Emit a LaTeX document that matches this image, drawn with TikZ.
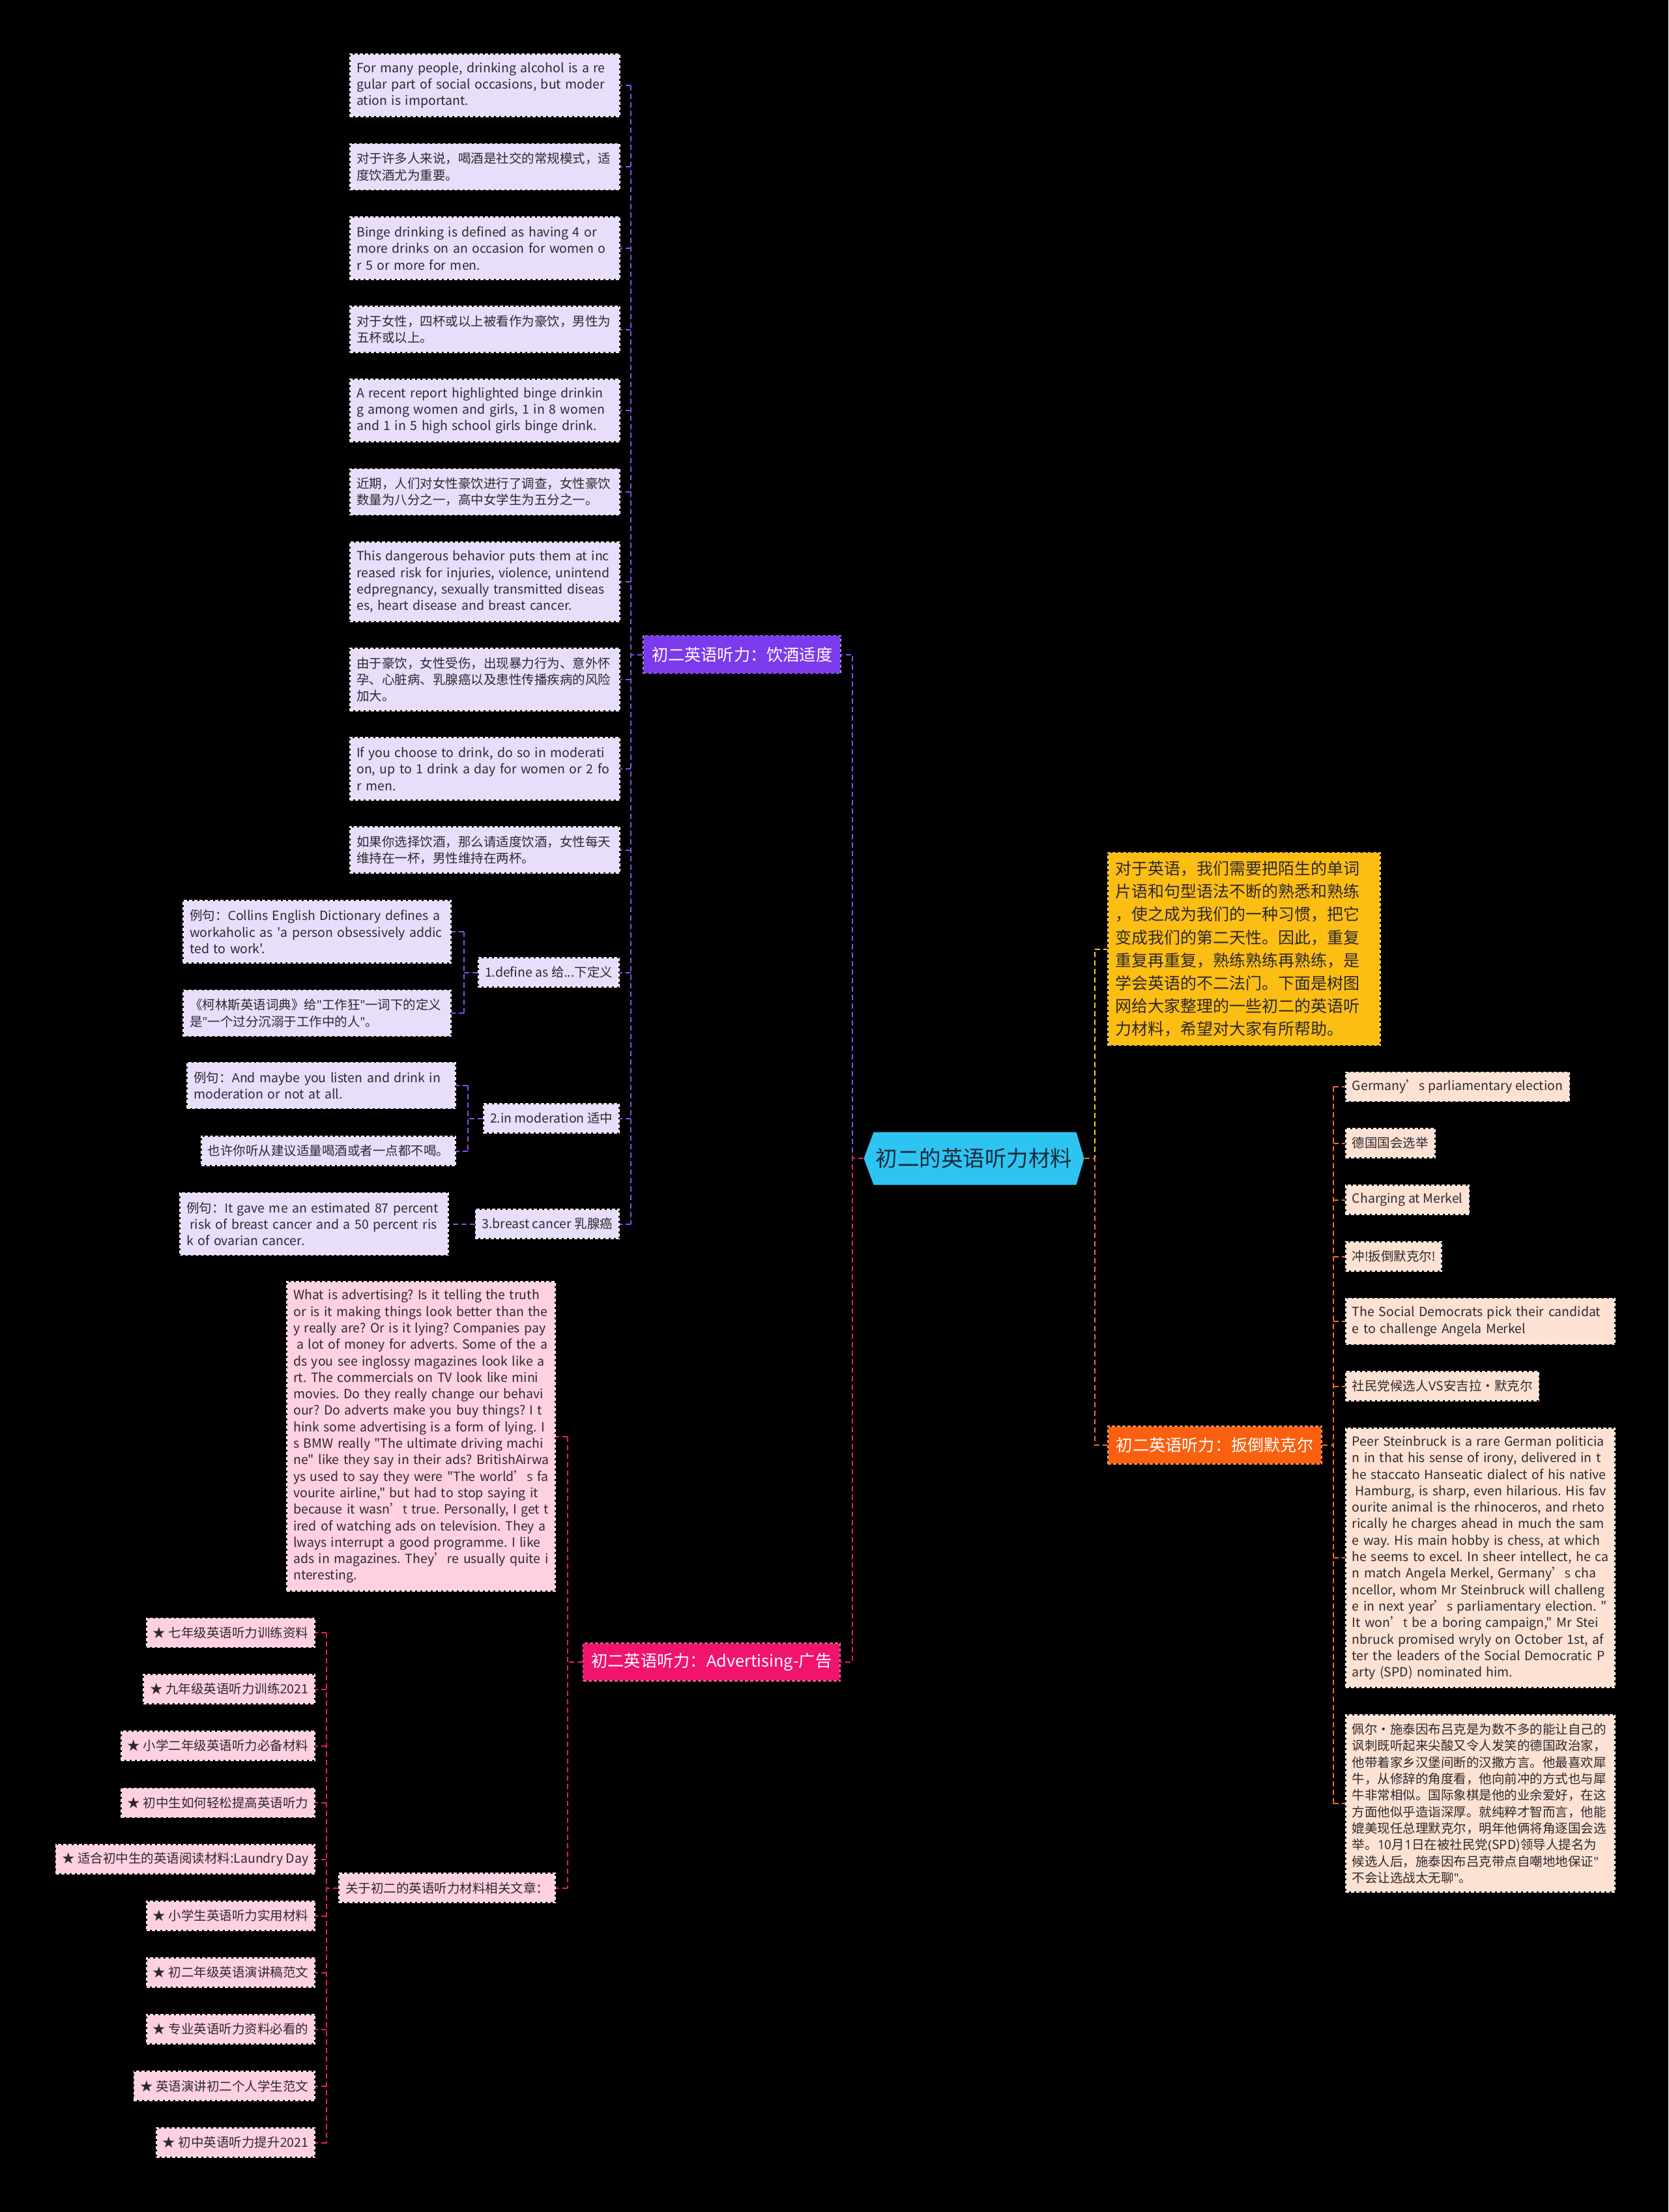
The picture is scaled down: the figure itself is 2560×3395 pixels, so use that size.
\documentclass[tikz,border=0pt]{standalone}
\usepackage{fontspec}
\setmainfont{Noto Sans CJK SC}
\newfontfamily\cjkfont{Noto Sans CJK SC}
\newfontfamily\latinfont{Open Sans}
\usetikzlibrary{calc}
\definecolor{rootcyan}{RGB}{46,196,242}
\definecolor{rootink}{RGB}{25,42,58}
\definecolor{leafink}{RGB}{45,40,45}
\definecolor{drinkpurple}{RGB}{124,58,237}
\definecolor{drinklight}{RGB}{232,222,252}
\definecolor{drinkwire}{RGB}{138,78,240}
\definecolor{adpink}{RGB}{240,20,110}
\definecolor{adlight}{RGB}{255,208,226}
\definecolor{adwire}{RGB}{232,28,108}
\definecolor{merkelorange}{RGB}{250,96,16}
\definecolor{merkellight}{RGB}{253,226,212}
\definecolor{merkelwire}{RGB}{242,110,40}
\definecolor{introyellow}{RGB}{253,190,20}
\definecolor{introwire}{RGB}{250,205,40}
\newcommand\leaffont{\fontsize{19.5}{25.3}\selectfont}
\newcommand\branchfont{\fontsize{25.2}{30}\selectfont}
\newcommand\introfont{\fontsize{25}{35.2}\selectfont}
\newcommand\rootfont{\fontsize{33.5}{40}\selectfont}
% latin letters in Open Sans, everything else in Noto Sans CJK
% (and no line breaks at spaces: lines are broken by hand)
\newXeTeXintercharclass\latincls
\count255=33
\loop
  \XeTeXcharclass\count255=\latincls
  \advance\count255 by 1
\ifnum\count255<127 \repeat
\XeTeXinterchartoks 4095 \latincls = {\latinfont}
\XeTeXinterchartoks 0 \latincls = {\latinfont}
\XeTeXinterchartoks 1 \latincls = {\latinfont}
\XeTeXinterchartoks 2 \latincls = {\latinfont}
\XeTeXinterchartoks 3 \latincls = {\latinfont}
\XeTeXinterchartoks \latincls 0 = {\cjkfont}
\XeTeXinterchartoks \latincls 1 = {\cjkfont}
\XeTeXinterchartoks \latincls 2 = {\cjkfont}
\XeTeXinterchartoks \latincls 3 = {\cjkfont}
\XeTeXinterchartoks 4095 0 = {\cjkfont}
\XeTeXinterchartoks 4095 1 = {\cjkfont}
\XeTeXinterchartoks 4095 2 = {\cjkfont}
\XeTeXinterchartoks 4095 3 = {\cjkfont}
\XeTeXinterchartoks \latincls 4095 = {\nobreak}
\XeTeXinterchartoks 0 4095 = {\nobreak}
\XeTeXinterchartoks 1 4095 = {\nobreak}
\XeTeXinterchartoks 2 4095 = {\nobreak}
\XeTeXinterchartoks 3 4095 = {\nobreak}
\XeTeXinterchartokenstate=1

\begin{document}
\frenchspacing
\hyphenpenalty=10000
\exhyphenpenalty=10000
\begin{tikzpicture}[x=1pt,y=-1pt,
  leaf/.style={rectangle, draw=black, line width=1.6pt, inner xsep=10pt, inner ysep=2pt,
    minimum height=45pt, align=left, text=leafink, font=\leaffont},
  pleaf/.style={leaf, fill=drinklight, postaction={draw=white!55!drinklight, dash pattern=on 5pt off 3pt}},
  aleaf/.style={leaf, fill=adlight, postaction={draw=white!55!adlight, dash pattern=on 5pt off 3pt}},
  mleaf/.style={leaf, fill=merkellight, postaction={draw=white!55!merkellight, dash pattern=on 5pt off 3pt}},
  branch/.style={rectangle, fill=#1, draw=black, line width=1.6pt,
    postaction={draw=#1!65!white, dash pattern=on 5pt off 3pt},
    inner xsep=13pt, minimum height=58pt, text=white, font=\branchfont},
  intro/.style={rectangle, fill=introyellow, draw=black, line width=1.6pt,
    postaction={draw=introyellow!70!white, dash pattern=on 5pt off 3pt},
    inner xsep=12pt, align=left, text=leafink, font=\introfont},
  wire/.style={line width=2pt, dash pattern=on 8pt off 5pt},
  drinkline/.style={wire, draw=drinkwire},
  adline/.style={wire, draw=adwire},
  introline/.style={wire, draw=introwire},
  merkelline/.style={wire, draw=merkelwire}]

\fill[black] (0,0) rectangle (2560,3395);
\useasboundingbox (0,0) rectangle (2560,3395);

% root
\coordinate (rc) at (1494.5,1778);
\fill[rootcyan] ($(rc)+(-169,0)$) -- ($(rc)+(-154,-40.5)$) -- ($(rc)+(157,-40.5)$)
  -- ($(rc)+(169,0)$) -- ($(rc)+(157,40.5)$) -- ($(rc)+(-154,40.5)$) -- cycle;
\node[minimum width=338pt, minimum height=81pt, text=rootink, font=\rootfont] (root) at (rc) {初二的英语听力材料};

% branch: drinking
\node[branch=drinkpurple, anchor=east] (b1) at (1291,1004.5) {初二英语听力：饮酒适度};
\node[pleaf, anchor=east, text width=394pt, minimum height=96pt] (p1) at (952,131)
  {For many people, drinking alcohol is a re\\gular part of social occasions, but moder\\ation is important.};
\node[pleaf, anchor=east, text width=394pt, minimum height=71pt] (p2) at (952,256)
  {对于许多人来说，喝酒是社交的常规模式，适\\度饮酒尤为重要。};
\node[pleaf, anchor=east, text width=394pt, minimum height=96pt] (p3) at (952,381)
  {Binge drinking is defined as having 4 or\\more drinks on an occasion for women o\\r 5 or more for men.};
\node[pleaf, anchor=east, text width=394pt, minimum height=71pt] (p4) at (952,505.5)
  {对于女性，四杯或以上被看作为豪饮，男性为\\五杯或以上。};
\node[pleaf, anchor=east, text width=394pt, minimum height=96pt] (p5) at (952,630)
  {A recent report highlighted binge drinkin\\g among women and girls, 1 in 8 women\\and 1 in 5 high school girls binge drink.};
\node[pleaf, anchor=east, text width=394pt, minimum height=71pt] (p6) at (952,755)
  {近期，人们对女性豪饮进行了调查，女性豪饮\\数量为八分之一，高中女学生为五分之一。};
\node[pleaf, anchor=east, text width=394pt, minimum height=122pt] (p7) at (952,893)
  {This dangerous behavior puts them at inc\\reased risk for injuries, violence, unintend\\edpregnancy, sexually transmitted diseas\\es, heart disease and breast cancer.};
\node[pleaf, anchor=east, text width=394pt, minimum height=96pt] (p8) at (952,1043)
  {由于豪饮，女性受伤，出现暴力行为、意外怀\\孕、心脏病、乳腺癌以及患性传播疾病的风险\\加大。};
\node[pleaf, anchor=east, text width=394pt, minimum height=96pt] (p9) at (952,1180)
  {If you choose to drink, do so in moderati\\on, up to 1 drink a day for women or 2 fo\\r men.};
\node[pleaf, anchor=east, text width=394pt, minimum height=71pt] (p10) at (952,1304.5)
  {如果你选择饮酒，那么请适度饮酒，女性每天\\维持在一杯，男性维持在两杯。};
\node[pleaf, anchor=east] (d1) at (951,1492.5) {1.define as 给...下定义};
\node[pleaf, anchor=east] (d2) at (951,1716.5) {2.in moderation 适中};
\node[pleaf, anchor=east] (d3) at (951,1878.5) {3.breast cancer 乳腺癌};
\node[pleaf, anchor=east, text width=391pt, minimum height=96pt] (e1) at (693,1430)
  {例句：Collins English Dictionary defines a\\workaholic as 'a person obsessively addic\\ted to work'.};
\node[pleaf, anchor=east, text width=391pt, minimum height=71pt] (e2) at (693,1555)
  {《柯林斯英语词典》给"工作狂"一词下的定义\\是"一个过分沉溺于工作中的人"。};
\node[pleaf, anchor=east, text width=392pt, minimum height=71pt] (e3) at (700,1666)
  {例句：And maybe you listen and drink in\\moderation or not at all.};
\node[pleaf, anchor=east] (e4) at (700,1766.5) {也许你听从建议适量喝酒或者一点都不喝。};
\node[pleaf, anchor=east, text width=392pt, minimum height=96pt] (e5) at (689,1878.5)
  {例句：It gave me an estimated 87 percent\\\hspace*{.25em}risk of breast cancer and a 50 percent ris\\k of ovarian cancer.};

% branch: advertising
\node[branch=adpink, anchor=east] (b3) at (1290,2551) {初二英语听力：Advertising-广告};
\node[aleaf, anchor=east, text width=392pt, minimum height=475pt] (ad) at (853,2204.5)
  {What is advertising? Is it telling the truth\\or is it making things look better than the\\y really are? Or is it lying? Companies pay\\\hspace*{.25em}a lot of money for adverts. Some of the a\\ds you see inglossy magazines look like a\\rt. The commercials on TV look like mini\\movies. Do they really change our behavi\\our? Do adverts make you buy things? I t\\hink some advertising is a form of lying. I\\s BMW really "The ultimate driving machi\\ne" like they say in their ads? BritishAirwa\\ys used to say they were "The world’s fa\\vourite airline," but had to stop saying it\\because it wasn’t true. Personally, I get t\\ired of watching ads on television. They a\\lways interrupt a good programme. I like\\ads in magazines. They’re usually quite i\\nteresting.};
\node[aleaf, anchor=east] (rel) at (853,2897.5) {关于初二的英语听力材料相关文章：};
\foreach \i/\y/\txt in {1/2506/七年级英语听力训练资料, 2/2592.5/九年级英语听力训练2021,
    3/2679.5/小学二年级英语听力必备材料, 4/2767/初中生如何轻松提高英语听力,
    5/2853.5/适合初中生的英语阅读材料:Laundry Day, 6/2940.5/小学生英语听力实用材料,
    7/3027.5/初二年级英语演讲稿范文, 8/3114.5/专业英语听力资料必看的,
    9/3201.5/英语演讲初二个人学生范文, 10/3288.5/初中英语听力提升2021}
  \node[aleaf, anchor=east] (s\i) at (484,\y) {★ \txt};

% intro
\node[intro, anchor=west, text width=394pt, minimum height=296pt] (intro) at (1699,1456.5)
  {对于英语，我们需要把陌生的单词\\片语和句型语法不断的熟悉和熟练\\，使之成为我们的一种习惯，把它\\变成我们的第二天性。因此，重复\\重复再重复，熟练熟练再熟练，是\\学会英语的不二法门。下面是树图\\网给大家整理的一些初二的英语听\\力材料，希望对大家有所帮助。};

% branch: Merkel
\node[branch=merkelorange, anchor=west] (b2) at (1699,2218) {初二英语听力：扳倒默克尔};
\node[mleaf, anchor=west] (r1) at (2064,1668) {Germany’s parliamentary election};
\node[mleaf, anchor=west] (r2) at (2064,1754.5) {德国国会选举};
\node[mleaf, anchor=west] (r3) at (2064,1841.5) {Charging at Merkel};
\node[mleaf, anchor=west] (r4) at (2064,1928.5) {冲!扳倒默克尔!};
\node[mleaf, anchor=west, text width=393pt, minimum height=71pt] (r5) at (2064,2028)
  {The Social Democrats pick their candidat\\e to challenge Angela Merkel};
\node[mleaf, anchor=west] (r6) at (2064,2127.5) {社民党候选人VS安吉拉·默克尔};
\node[mleaf, anchor=west, text width=393pt, minimum height=398pt] (r7) at (2064,2391)
  {Peer Steinbruck is a rare German politicia\\n in that his sense of irony, delivered in t\\he staccato Hanseatic dialect of his native\\\hspace*{.25em}Hamburg, is sharp, even hilarious. His fav\\ourite animal is the rhinoceros, and rheto\\rically he charges ahead in much the sam\\e way. His main hobby is chess, at which\\he seems to excel. In sheer intellect, he ca\\n match Angela Merkel, Germany’s cha\\ncellor, whom Mr Steinbruck will challeng\\e in next year’s parliamentary election. "\\It won’t be a boring campaign," Mr Stei\\nbruck promised wryly on October 1st, af\\ter the leaders of the Social Democratic P\\arty (SPD) nominated him.};
\node[mleaf, anchor=west, text width=393pt, minimum height=272pt] (r8) at (2064,2768)
  {佩尔·施泰因布吕克是为数不多的能让自己的\\讽刺既听起来尖酸又令人发笑的德国政治家，\\他带着家乡汉堡间断的汉撒方言。他最喜欢犀\\牛，从修辞的角度看，他向前冲的方式也与犀\\牛非常相似。国际象棋是他的业余爱好，在这\\方面他似乎造诣深厚。就纯粹才智而言，他能\\媲美现任总理默克尔，明年他俩将角逐国会选\\举。10月1日在被社民党(SPD)领导人提名为\\候选人后，施泰因布吕克带点自嘲地地保证"\\不会让选战太无聊"。};

% junction columns
\coordinate (jl) at (1308,0);
\coordinate (jr) at (1680,0);
\coordinate (j1) at (968,0);
\coordinate (j1a) at (712,0);
\coordinate (j1b) at (718,0);
\coordinate (j2) at (2045.5,0);
\coordinate (j3) at (871,0);
\coordinate (j3a) at (501,0);

% root to branches
\draw[drinkline] (root.west) -| (jl |- b1.east) -- (b1.east);
\draw[adline] (root.west) -| (jl |- b3.east) -- (b3.east);
\draw[introline] (root.east) -| (jr |- intro.west) -- (intro.west);
\draw[merkelline] (root.east) -| (jr |- b2.west) -- (b2.west);

% drinking subtree
\draw[drinkline] (b1.west) -- (j1 |- b1.west);
\draw[drinkline] (j1 |- p1.east) -- (j1 |- d3.east);
\foreach \n in {p1,p2,p3,p4,p5,p6,p7,p8,p9,p10,d1,d2,d3}
  \draw[drinkline] (j1 |- \n.east) -- (\n.east);
\draw[drinkline] (d1.west) -- (j1a |- d1.west);
\draw[drinkline] (j1a |- e1.east) -- (j1a |- e2.east);
\foreach \n in {e1,e2} \draw[drinkline] (j1a |- \n.east) -- (\n.east);
\draw[drinkline] (d2.west) -- (j1b |- d2.west);
\draw[drinkline] (j1b |- e3.east) -- (j1b |- e4.east);
\foreach \n in {e3,e4} \draw[drinkline] (j1b |- \n.east) -- (\n.east);
\draw[drinkline] (d3.west) -- (e5.east);

% advertising subtree
\draw[adline] (b3.west) -- (j3 |- b3.west);
\draw[adline] (j3 |- ad.east) -- (j3 |- rel.east);
\foreach \n in {ad,rel} \draw[adline] (j3 |- \n.east) -- (\n.east);
\draw[adline] (rel.west) -- (j3a |- rel.west);
\draw[adline] (j3a |- s1.east) -- (j3a |- s10.east);
\foreach \i in {1,...,10} \draw[adline] (j3a |- s\i.east) -- (s\i.east);

% Merkel subtree
\draw[merkelline] (b2.east) -- (j2 |- b2.east);
\draw[merkelline] (j2 |- r1.west) -- (j2 |- r8.west);
\foreach \i in {1,...,8} \draw[merkelline] (j2 |- r\i.west) -- (r\i.west);
\end{tikzpicture}
\end{document}
